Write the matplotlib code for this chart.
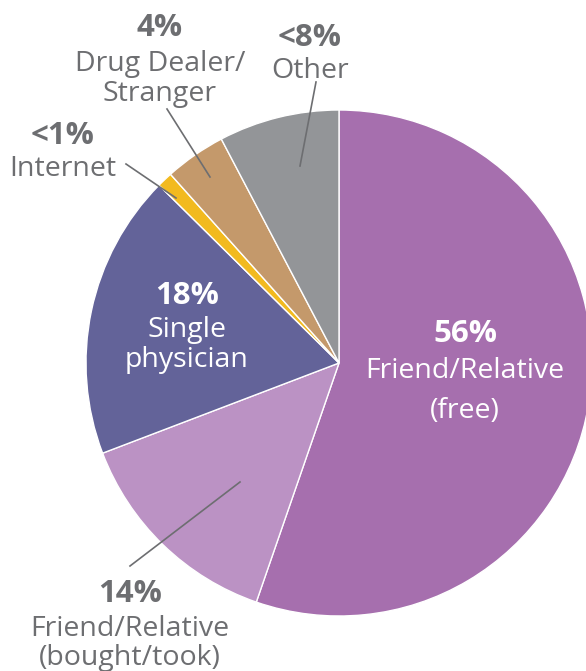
import matplotlib
matplotlib.use("Agg")
import matplotlib.pyplot as plt
import matplotlib.transforms as mtrans

# data, clockwise from 12 o'clock
sources = ["Friend/Relative (free)", "Friend/Relative (bought/took)", "Single physician",
           "Internet", "Drug Dealer/Stranger", "Other"]
shares = [55.3, 13.9, 18.2, 1.0, 3.9, 7.7]
pct_labels = ["56%", "14%", "18%", "<1%", "4%", "<8%"]
name_labels = [["Friend/Relative", "(free)"], ["Friend/Relative", "(bought/took)"],
               ["Single", "physician"], ["Internet"], ["Drug Dealer/", "Stranger"], ["Other"]]
colors = ["#A66FAE", "#BB92C4", "#636399", "#F2BA1F", "#C4996B", "#939598"]

W, H = 586, 671
fig = plt.figure(figsize=(W / 100, H / 100), dpi=100)
ax = fig.add_axes([0, 0, 1, 1])

cx, cy, r = 339, 363, 253
ax.pie(shares, colors=colors, startangle=90, counterclock=False,
       center=(cx, -cy), radius=r,
       wedgeprops=dict(edgecolor="white", linewidth=1.0))
# pie draws in y-up coords; flip it into image coords
for p in ax.patches:
    p.set_transform(mtrans.Affine2D().scale(1, -1) + ax.transData)
ax.set_xlim(0, W)
ax.set_ylim(H, 0)
ax.set_aspect("equal")
ax.axis("off")

plt.rcParams["font.family"] = ["Open Sans", "DejaVu Sans"]
gray = "#6D6E71"

# label layout: x, y of each line (percent first), colour, leader line
layout = [
    (465, [330, 368, 407], "white", None, None),
    (130, [590, 625, 655], gray, (130, 566), (240, 482)),
    (187, [293, 327, 357], "white", None, None),
    (63, [133, 165], gray, (126, 164), (176, 198)),
    (160, [25, 60, 90], gray, (167, 109), (210, 177)),
    (310, [35, 68], gray, (316, 82), (300, 166)),
]

for (x, ys, col, p0, p1), pct, names in zip(layout, pct_labels, name_labels):
    ax.text(x, ys[0], pct, ha="center", va="center_baseline", fontsize=22.5,
            fontweight="bold", color=col)
    for yy, nm in zip(ys[1:], names):
        ax.text(x, yy, nm, ha="center", va="center_baseline", fontsize=20.5, color=col)
    if p0 is not None:
        ax.plot([p0[0], p1[0]], [p0[1], p1[1]], color=gray, linewidth=1.2)

fig.savefig("out.png", dpi=100)
